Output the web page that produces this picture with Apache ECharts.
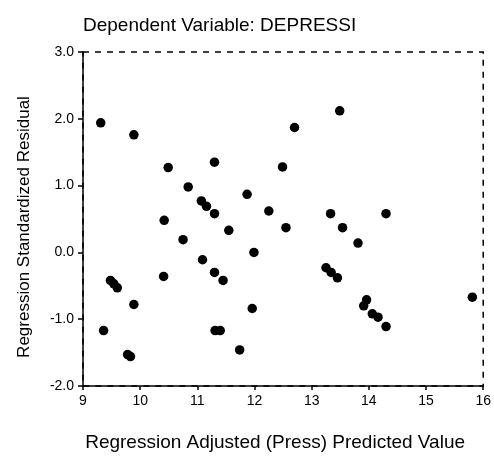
<!DOCTYPE html>
<html>
<head>
<meta charset="utf-8">
<script src="https://cdn.jsdelivr.net/npm/echarts@6/dist/echarts.min.js"></script>
<style>html,body{margin:0;padding:0;background:#fff}#c{width:494px;height:457px}</style>
</head>
<body>
<div id="c"></div>
<script>
const titleText = "Dependent Variable: DEPRESSI";
const xTitle = "Regression Adjusted (Press) Predicted Value";
const yTitle = "Regression Standardized Residual";
const predicted = [9.31, 9.89, 10.49, 11.30, 10.84, 11.07, 11.16, 11.30, 10.42, 13.49,
  12.70, 12.49, 11.87, 12.25, 13.33, 14.30, 11.55, 10.75, 11.09, 11.30,
  11.45, 10.41, 9.48, 9.54, 9.60, 9.89, 9.36, 11.31, 11.40, 9.78,
  9.83, 12.55, 13.54, 13.81, 11.99, 13.25, 13.34, 13.45, 15.81, 13.96,
  13.91, 14.06, 14.16, 14.30, 11.96, 11.74];
const residual = [1.94, 1.76, 1.27, 1.35, 0.98, 0.77, 0.69, 0.58, 0.48, 2.12,
  1.87, 1.28, 0.87, 0.62, 0.58, 0.58, 0.33, 0.19, -0.11, -0.30,
  -0.42, -0.36, -0.42, -0.47, -0.53, -0.78, -1.17, -1.17, -1.17, -1.53,
  -1.56, 0.37, 0.37, 0.14, 0.00, -0.23, -0.30, -0.38, -0.67, -0.71,
  -0.80, -0.92, -0.97, -1.11, -0.84, -1.46];

const chart = echarts.init(document.getElementById('c'));
const font = 'Liberation Sans, Arial, sans-serif';
chart.setOption({
  animation: false,
  title: { text: titleText, left: 78, top: 11,
    textStyle: { fontFamily: font, fontSize: 19, fontWeight: 'normal', color: '#000' } },
  grid: { left: 83, right: 10, top: 52, bottom: 71, show: true,
    borderColor: '#000', borderWidth: 1.5, borderType: [6, 6], backgroundColor: 'transparent' },
  xAxis: {
    type: 'value', min: 9, max: 16, interval: 1,
    name: xTitle, nameLocation: 'middle', nameGap: 47,
    nameTextStyle: { fontFamily: font, fontSize: 19, color: '#000', padding: [0, 16, 0, 0] },
    axisLine: { show: true, onZero: false, lineStyle: { color: '#000', width: 1.5 } },
    axisTick: { show: true, length: 4, lineStyle: { color: '#000', width: 1.5 } },
    axisLabel: { fontFamily: font, fontSize: 14, color: '#000', margin: 8 },
    splitLine: { show: false }
  },
  yAxis: {
    type: 'value', min: -2, max: 3, interval: 1,
    name: yTitle, nameLocation: 'middle', nameGap: 50,
    nameTextStyle: { fontFamily: font, fontSize: 17, color: '#000', padding: [0, 16, 0, 0] },
    axisLine: { show: true, onZero: false, lineStyle: { color: '#000', width: 1.5 } },
    axisTick: { show: true, length: 5, lineStyle: { color: '#000', width: 1.5 } },
    axisLabel: { fontFamily: font, fontSize: 14, color: '#000', margin: 9,
      formatter: v => v.toFixed(1) },
    splitLine: { show: false }
  },
  series: [{
    type: 'scatter',
    data: predicted.map((x, i) => [x, residual[i]]),
    symbol: 'circle', symbolSize: 9.5,
    itemStyle: { color: '#000', opacity: 1 }
  }]
});
</script>
</body>
</html>
